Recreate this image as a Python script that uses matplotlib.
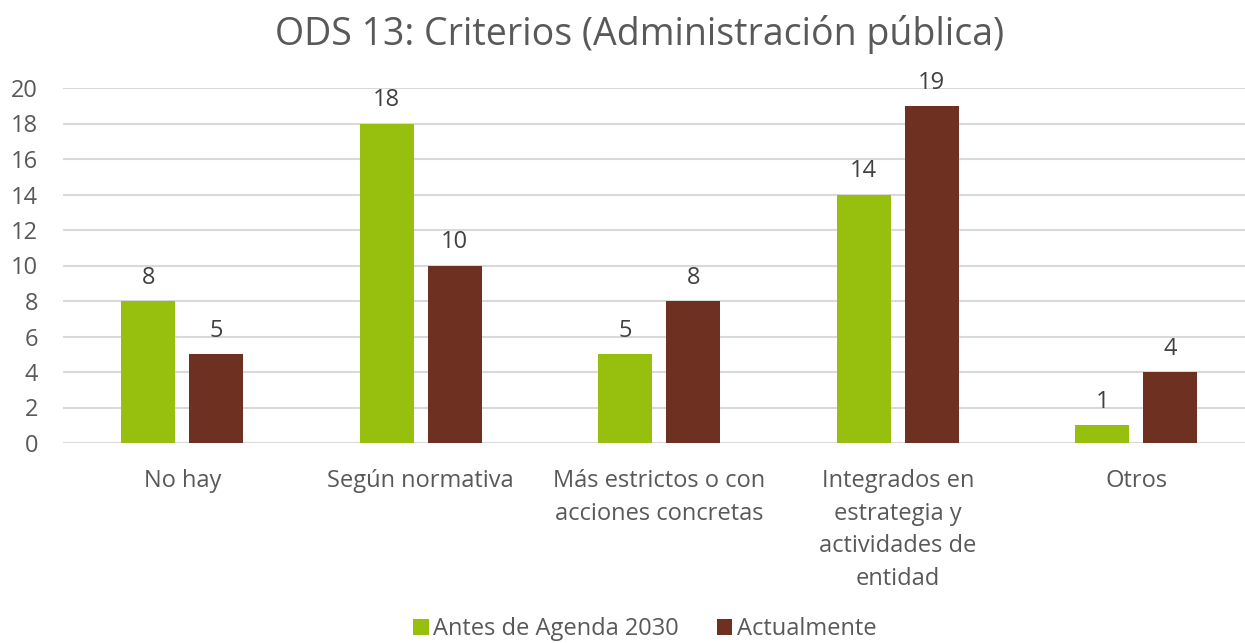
import matplotlib
matplotlib.use("Agg")
import matplotlib.pyplot as plt
import numpy as np

plt.rcParams['font.family'] = ['Open Sans', 'DejaVu Sans']

categories = ["No hay", "Según normativa", "Más estrictos o con\nacciones concretas",
              "Integrados en\nestrategia y\nactividades de\nentidad", "Otros"]
antes = [8, 18, 5, 14, 1]
actual = [5, 10, 8, 19, 4]
series_names = ["Antes de Agenda 2030", "Actualmente"]
yticks = [0, 2, 4, 6, 8, 10, 12, 14, 16, 18, 20]

green = "#97BF0D"
brown = "#6E3020"
txt = "#595959"

W, H = 1245, 643
fig = plt.figure(figsize=(W / 100, H / 100), dpi=100)
left, right, bottom, top = 63, 1245, 443, 88
ax = fig.add_axes([left / W, (H - bottom) / H, (right - left) / W, (bottom - top) / H])

step = 238.5
x = np.arange(len(categories))
bw = 54 / step
off = 34 / step
b1 = ax.bar(x - off, antes, bw, color=green, label=series_names[0], zorder=3)
b2 = ax.bar(x + off, actual, bw, color=brown, label=series_names[1], zorder=3)

for bars, vals in ((b1, antes), (b2, actual)):
    for r, v in zip(bars, vals):
        ax.annotate(str(v), (r.get_x() + r.get_width() / 2, v), xytext=(0, 8),
                    textcoords="offset points", ha="center", va="bottom",
                    fontsize=17, color="#404040")

ax.set_xlim(-0.5, -0.5 + (right - left) / step)
ax.set_ylim(0, 20)
ax.set_yticks(yticks)
ax.set_xticks(x)
ax.set_xticklabels(categories, fontsize=17, color=txt, linespacing=1.47)
ax.tick_params(axis='y', labelsize=17, labelcolor=txt, length=0, pad=18)
ax.tick_params(axis='x', length=0, pad=19)
for lab in ax.get_yticklabels():
    lab.set_horizontalalignment('right')
ax.grid(axis='y', color="#D9D9D9", linewidth=1.5, zorder=0)
for s in ax.spines.values():
    s.set_visible(False)

fig.suptitle("ODS 13: Criterios (Administración pública)", x=0.514, y=1 - 35 / H,
             va="center", fontsize=27, color=txt)

fig.legend(handles=[b1, b2], labels=series_names, loc="center", bbox_to_anchor=(645 / W, 1 - 629 / H),
           ncol=2, frameon=False, fontsize=17, labelcolor=txt, handlelength=0.65,
           handleheight=0.65, handletextpad=0.2, columnspacing=1.6)

fig.savefig("out.png", dpi=100, facecolor="white")
